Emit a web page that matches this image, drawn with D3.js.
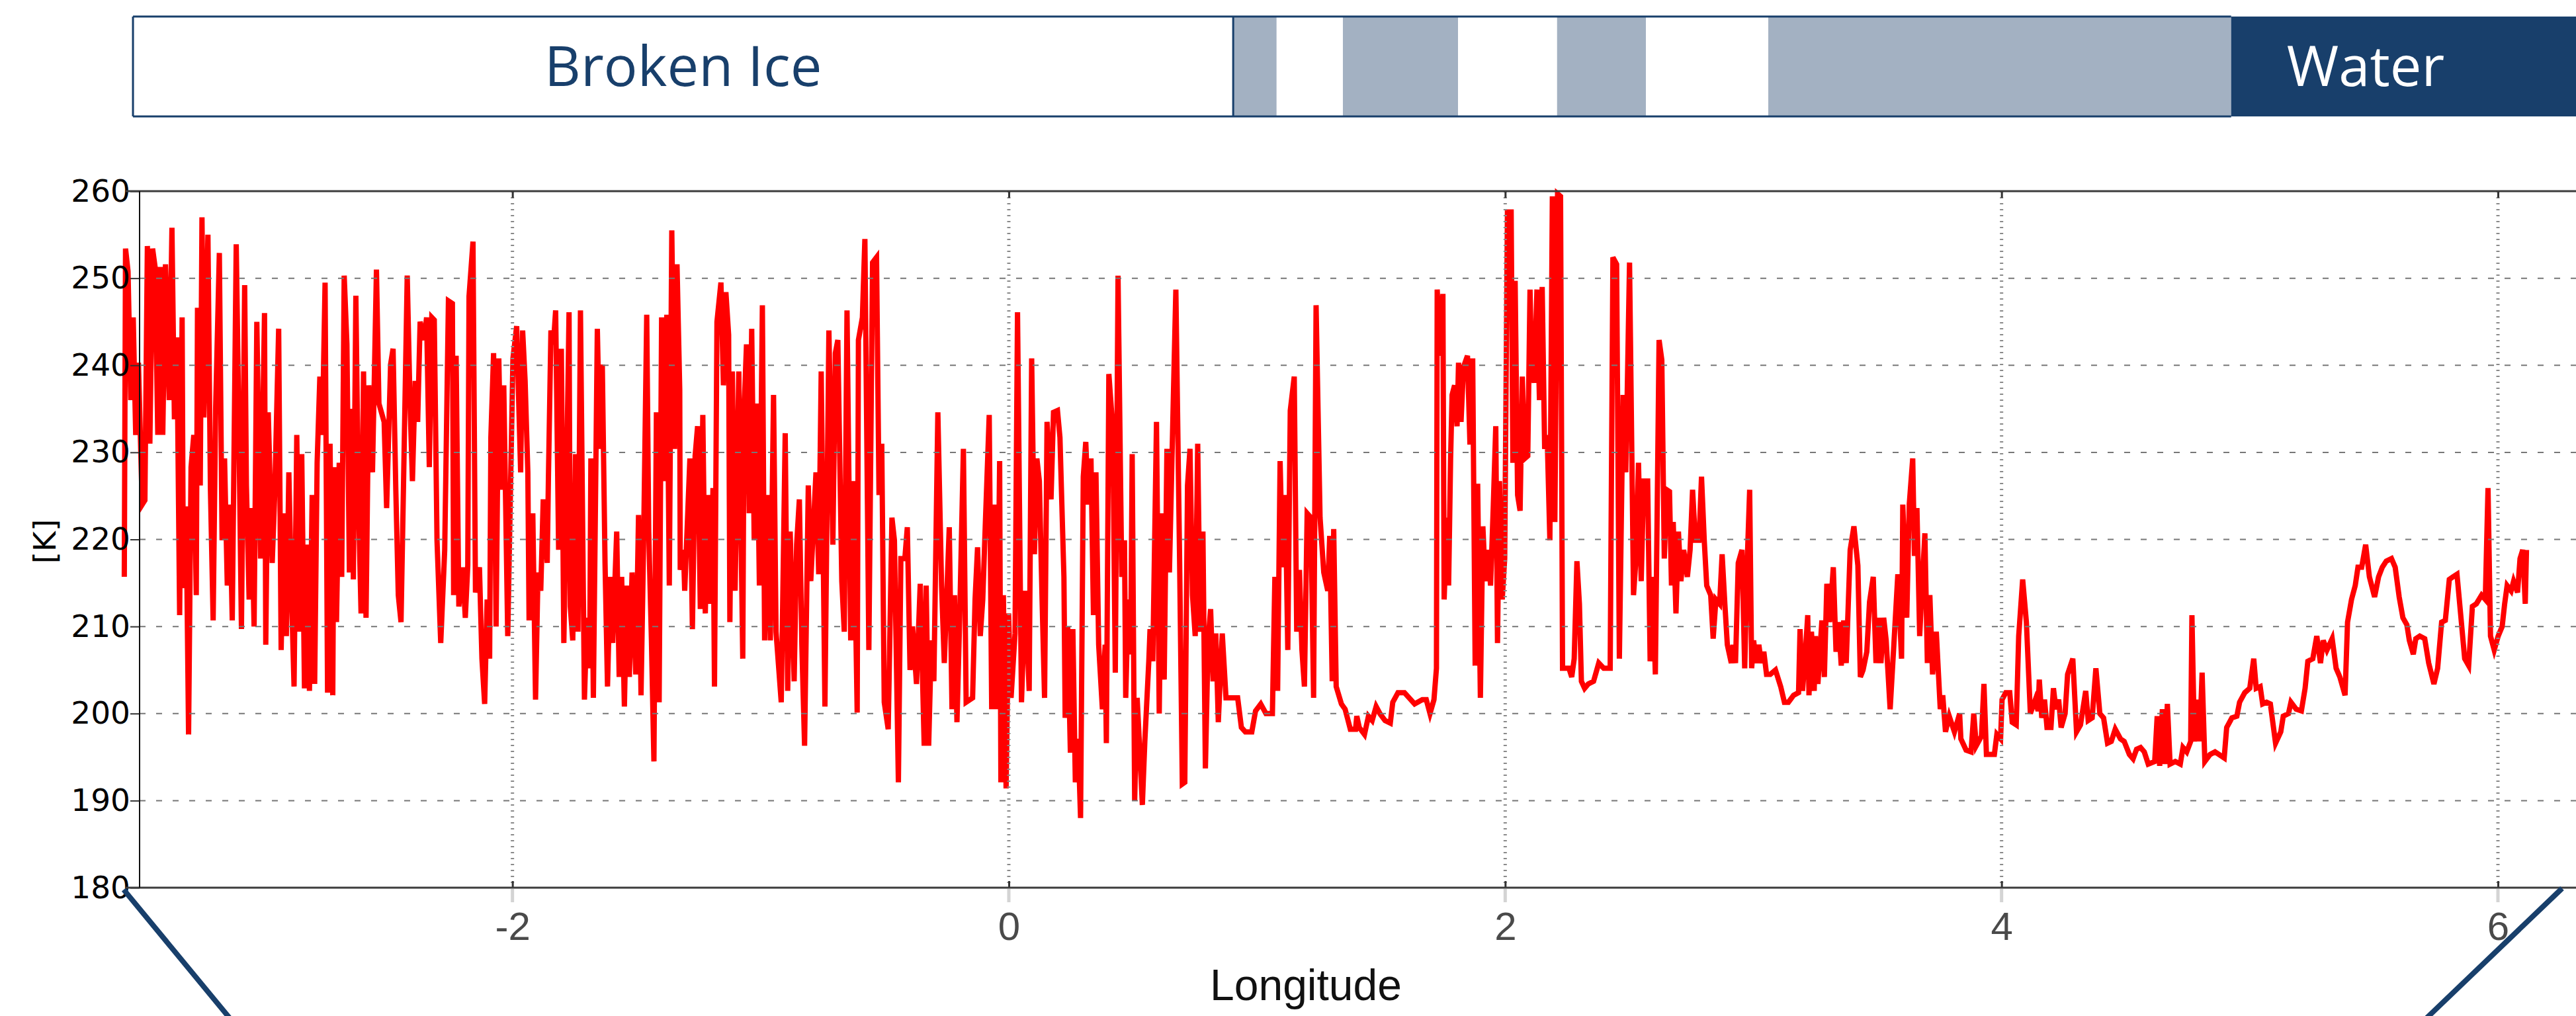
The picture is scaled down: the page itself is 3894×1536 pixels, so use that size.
<!DOCTYPE html>
<html>
<head>
<meta charset="utf-8">
<script src="https://cdn.jsdelivr.net/npm/d3@7"></script>
<style>
  body { margin: 0; background: #fff; }
  svg { display: block; }
</style>
</head>
<body>
<div id="chart"></div>
<script>
  // Size
  var width = 3894
  var height = 1536

  // Brightness temperature [K] along the track, [longitude, K], west to east
  var segA = [[-3.564,215.7],[-3.559,253.4],[-3.549,250.8],[-3.538,236.0],[-3.528,245.5],[-3.518,232.0],[-3.507,240.3],[-3.492,224.0],[-3.481,224.5],[-3.471,253.7],[-3.461,231.0],[-3.450,253.4],[-3.440,251.3],[-3.429,232.0],[-3.419,251.3],[-3.409,232.0],[-3.398,251.6],[-3.383,236.0],[-3.372,255.8],[-3.362,233.8],[-3.352,243.2],[-3.341,211.3],[-3.331,245.5],[-3.326,214.4],[-3.315,223.8],[-3.305,197.6],[-3.295,228.3],[-3.284,232.0],[-3.274,213.6],[-3.269,246.6],[-3.258,226.2],[-3.251,257.0],[-3.243,234.0],[-3.227,255.0],[-3.217,225.9],[-3.206,210.7],[-3.196,235.0],[-3.181,252.9],[-3.170,219.9],[-3.160,229.3],[-3.149,214.7],[-3.139,224.0],[-3.129,210.7],[-3.113,253.9],[-3.103,234.3],[-3.092,209.7],[-3.079,249.2],[-3.072,226.2],[-3.061,213.1],[-3.051,223.6],[-3.041,210.0],[-3.030,245.0],[-3.015,217.8],[-2.999,246.0],[-2.994,207.9],[-2.984,234.6],[-2.968,217.3],[-2.958,225.1],[-2.942,244.2],[-2.932,207.3],[-2.921,223.0],[-2.911,208.9],[-2.901,227.7],[-2.890,213.6],[-2.880,203.1],[-2.869,232.0],[-2.859,209.4],[-2.849,229.8],[-2.838,202.9],[-2.828,219.4],[-2.818,202.6],[-2.807,225.1],[-2.797,203.4],[-2.787,228.8],[-2.776,238.7],[-2.766,232.0],[-2.755,249.5],[-2.745,202.4],[-2.735,231.0],[-2.724,202.1],[-2.719,228.3],[-2.709,210.5],[-2.698,228.8],[-2.688,215.7],[-2.678,250.3],[-2.667,242.4],[-2.657,216.2],[-2.647,235.0],[-2.641,215.4],[-2.631,248.0],[-2.621,225.1],[-2.610,211.5],[-2.600,239.3],[-2.590,211.0],[-2.579,237.7],[-2.564,227.7],[-2.548,251.0],[-2.538,235.6],[-2.517,233.5],[-2.507,223.6],[-2.491,240.1],[-2.481,241.9],[-2.470,225.7],[-2.460,213.6],[-2.449,210.5],[-2.439,226.2],[-2.424,250.3],[-2.413,236.0],[-2.403,226.7],[-2.392,238.2],[-2.382,233.5],[-2.372,245.0],[-2.356,242.9],[-2.346,245.5],[-2.335,228.3],[-2.325,245.5],[-2.315,245.2],[-2.304,219.9],[-2.289,208.1],[-2.273,218.8],[-2.258,247.4],[-2.242,247.1],[-2.237,213.6],[-2.227,241.1],[-2.216,212.3],[-2.201,216.8],[-2.190,211.0],[-2.180,217.0],[-2.175,247.9],[-2.159,254.2],[-2.149,213.9],[-2.133,216.8],[-2.123,206.3],[-2.112,201.1],[-2.102,213.1],[-2.092,206.3],[-2.087,231.7],[-2.076,241.4],[-2.066,210.0],[-2.055,240.8],[-2.045,225.7],[-2.035,237.7],[-2.019,208.9],[-1.998,240.8],[-1.983,244.5],[-1.967,227.7]]
  var segB = [[-1.959,244.0],[-1.949,238.2],[-1.938,227.7],[-1.933,210.7],[-1.918,223.0],[-1.907,201.6],[-1.897,216.2],[-1.886,214.1],[-1.876,224.6],[-1.860,217.3],[-1.855,227.2],[-1.845,244.0],[-1.835,242.4],[-1.826,246.3],[-1.814,218.8],[-1.803,241.9],[-1.793,208.1],[-1.783,225.1],[-1.772,246.1],[-1.767,212.3],[-1.757,208.4],[-1.746,229.8],[-1.736,209.4],[-1.726,246.3],[-1.710,201.6],[-1.700,211.0],[-1.689,205.2],[-1.684,229.3],[-1.674,201.8],[-1.658,244.2],[-1.648,230.4],[-1.638,240.1],[-1.627,217.3],[-1.617,203.1],[-1.606,215.7],[-1.596,208.1],[-1.580,220.9],[-1.570,204.2],[-1.560,215.7],[-1.549,200.8],[-1.539,214.7],[-1.529,204.2],[-1.518,216.2],[-1.503,204.5],[-1.492,222.8],[-1.482,202.1],[-1.472,218.8],[-1.459,245.8],[-1.451,220.9],[-1.440,208.4],[-1.430,194.5],[-1.420,234.6],[-1.409,201.3],[-1.399,245.5],[-1.389,226.7],[-1.378,245.8],[-1.368,214.7],[-1.358,255.5],[-1.347,230.4],[-1.337,251.6],[-1.326,237.2],[-1.324,216.5],[-1.311,218.8],[-1.306,214.1],[-1.285,229.3],[-1.275,209.7],[-1.264,229.6],[-1.254,233.0],[-1.243,212.0],[-1.233,234.3],[-1.223,211.5],[-1.212,225.1],[-1.202,212.6],[-1.192,225.9],[-1.186,203.1],[-1.176,245.0],[-1.160,249.5],[-1.150,237.7],[-1.140,248.4],[-1.129,243.5],[-1.124,210.5],[-1.114,239.3],[-1.103,214.1],[-1.088,239.3],[-1.072,206.3],[-1.067,234.6],[-1.057,242.4],[-1.046,223.0],[-1.036,244.2],[-1.026,219.9],[-1.015,235.6],[-1.005,214.7],[-0.993,246.9],[-0.984,208.4],[-0.969,225.1],[-0.961,208.4],[-0.948,236.6],[-0.938,209.4],[-0.917,201.3],[-0.901,232.2],[-0.891,202.6],[-0.881,220.9],[-0.865,203.7],[-0.855,219.4],[-0.844,224.6],[-0.834,207.9],[-0.823,196.3],[-0.808,226.2],[-0.798,215.2],[-0.777,227.7],[-0.766,216.0],[-0.756,239.3],[-0.741,200.8],[-0.725,244.0],[-0.709,219.4],[-0.699,241.4],[-0.689,242.9],[-0.673,215.2],[-0.663,209.4],[-0.652,246.3],[-0.637,208.4],[-0.626,226.7],[-0.611,200.1],[-0.606,242.9],[-0.590,245.5],[-0.580,254.5],[-0.564,207.3],[-0.549,251.8],[-0.533,252.4],[-0.523,225.1],[-0.512,231.0],[-0.502,201.3],[-0.486,198.2],[-0.471,222.5],[-0.461,219.9],[-0.445,192.1],[-0.435,217.8],[-0.419,217.8],[-0.409,221.4],[-0.398,205.0],[-0.388,210.0],[-0.372,203.4],[-0.357,214.9],[-0.341,196.3]]
  var segC = [[-0.333,214.7],[-0.323,196.3],[-0.312,208.4],[-0.302,203.7],[-0.286,234.6],[-0.271,214.7],[-0.260,205.8],[-0.250,213.6],[-0.240,221.4],[-0.229,200.5],[-0.219,213.6],[-0.209,199.0],[-0.198,211.0],[-0.183,230.4],[-0.172,201.3],[-0.146,201.8],[-0.136,213.1],[-0.126,219.1],[-0.115,208.9],[-0.105,213.1],[-0.094,222.3],[-0.079,234.3],[-0.069,200.5],[-0.058,224.0],[-0.048,200.5],[-0.037,229.0],[-0.032,192.1],[-0.022,213.6],[-0.011,191.4],[-0.001,211.5],[0.009,201.8],[0.025,209.2],[0.035,246.1],[0.051,201.3],[0.066,214.1],[0.082,202.6],[0.092,240.8],[0.103,218.3],[0.113,229.3],[0.123,226.7],[0.134,213.1],[0.144,201.8],[0.154,233.5],[0.170,224.6],[0.180,234.6],[0.196,234.8],[0.206,231.7],[0.222,215.7],[0.227,199.5],[0.237,210.0],[0.248,195.5],[0.258,209.7],[0.268,192.1],[0.279,197.1],[0.289,188.0],[0.300,227.2],[0.310,231.2],[0.320,224.0],[0.331,229.3],[0.341,211.3],[0.351,227.7],[0.362,207.9],[0.377,200.5],[0.388,207.9],[0.393,196.6],[0.403,239.0],[0.419,232.7],[0.429,204.7],[0.440,250.3],[0.455,215.7],[0.466,219.9],[0.471,201.8],[0.481,213.1],[0.491,206.8],[0.497,229.8],[0.507,190.0],[0.517,201.8],[0.528,195.5],[0.538,189.5],[0.548,196.8],[0.564,206.0],[0.569,209.7],[0.580,206.0],[0.595,233.5],[0.606,200.0],[0.616,223.0],[0.626,203.9],[0.637,230.4],[0.647,216.2],[0.652,222.5],[0.663,236.4],[0.673,248.7],[0.688,217.8],[0.699,191.9],[0.709,192.1],[0.720,226.2],[0.730,230.4],[0.740,213.6],[0.751,208.9],[0.761,231.0],[0.771,209.4],[0.782,220.9],[0.792,193.7],[0.803,208.4],[0.813,212.0],[0.823,203.7],[0.834,209.2],[0.844,199.0],[0.860,209.2],[0.875,201.8],[0.896,201.8],[0.922,201.8],[0.937,198.4],[0.953,197.9],[0.979,197.9],[0.994,200.3],[1.015,201.1],[1.036,200.0],[1.062,200.0],[1.072,215.7],[1.083,202.6],[1.093,229.0],[1.103,216.8],[1.114,225.1],[1.124,207.3],[1.134,234.8],[1.150,238.7],[1.160,209.4],[1.171,216.5],[1.181,207.3],[1.191,203.1],[1.202,223.0],[1.217,222.5],[1.228,201.8],[1.238,246.9],[1.254,222.5],[1.269,216.2],[1.285,214.1]]
  var segD = [[1.293,220.4],[1.303,203.7],[1.309,221.2],[1.319,203.1],[1.340,201.1],[1.355,200.5],[1.376,198.2],[1.397,198.2],[1.402,199.7],[1.412,198.4],[1.433,197.6],[1.449,199.7],[1.464,199.2],[1.480,200.8],[1.495,200.0],[1.516,199.2],[1.537,198.9],[1.547,201.3],[1.568,202.4],[1.594,202.4],[1.635,201.1],[1.666,201.6],[1.682,201.6],[1.697,200.0],[1.713,201.6],[1.723,205.2],[1.726,248.7],[1.737,241.1],[1.749,248.2],[1.754,213.1],[1.765,222.5],[1.772,214.7],[1.780,229.3],[1.786,236.6],[1.796,237.7],[1.806,233.0],[1.812,240.3],[1.822,233.5],[1.832,239.8],[1.848,241.1],[1.858,230.9],[1.869,240.8],[1.879,205.5],[1.889,226.4],[1.900,201.8],[1.910,221.5],[1.920,215.2],[1.931,218.8],[1.941,214.7],[1.952,223.8],[1.962,233.0],[1.969,208.1],[1.977,226.7],[1.988,213.1],[1.998,217.8],[2.009,257.6],[2.024,257.6],[2.031,228.8],[2.040,249.7],[2.050,225.1],[2.060,223.3],[2.069,238.7],[2.079,229.3],[2.091,229.6],[2.100,248.7],[2.107,239.8],[2.117,238.0],[2.128,248.7],[2.138,236.0],[2.149,249.0],[2.159,230.4],[2.169,232.0],[2.180,219.9],[2.190,259.4],[2.200,222.0],[2.211,259.7],[2.223,259.4],[2.231,205.2],[2.257,205.2],[2.268,204.2],[2.278,206.3],[2.289,217.5],[2.299,212.6],[2.307,203.7],[2.320,202.9],[2.335,203.4],[2.356,203.7],[2.377,205.8],[2.397,205.2],[2.423,205.2],[2.434,252.4],[2.449,251.6],[2.460,206.3],[2.475,236.6],[2.486,227.7],[2.501,251.8],[2.517,213.6],[2.527,217.8],[2.537,228.8],[2.548,215.2],[2.558,226.7],[2.574,226.7],[2.584,206.0],[2.594,215.7],[2.605,204.5],[2.620,242.9],[2.631,240.6],[2.641,217.8],[2.651,225.7],[2.662,225.5],[2.670,214.7],[2.677,222.0],[2.688,211.5],[2.698,220.9],[2.708,215.2],[2.719,218.8],[2.734,215.7],[2.745,218.8],[2.755,225.7],[2.766,219.9],[2.781,219.9],[2.791,227.2],[2.802,219.9],[2.812,214.7],[2.828,213.6],[2.838,208.6],[2.849,213.1],[2.864,212.6],[2.874,218.3],[2.885,212.6],[2.895,207.9],[2.911,205.8]]
  var segE = [[2.918,207.9],[2.928,205.8],[2.939,217.3],[2.954,218.8],[2.965,205.2],[2.975,217.3],[2.985,225.7],[2.993,205.2],[3.001,208.4],[3.011,205.8],[3.022,207.9],[3.032,205.8],[3.042,207.1],[3.053,204.5],[3.068,204.5],[3.089,205.0],[3.110,203.1],[3.125,201.3],[3.141,201.3],[3.162,202.1],[3.182,202.4],[3.188,209.7],[3.198,202.6],[3.208,206.3],[3.219,211.3],[3.224,202.1],[3.234,209.4],[3.245,202.6],[3.250,208.9],[3.260,203.4],[3.276,210.7],[3.286,204.2],[3.296,214.9],[3.307,210.5],[3.322,216.8],[3.333,207.1],[3.343,210.5],[3.354,205.5],[3.364,210.7],[3.374,205.8],[3.390,218.8],[3.405,221.5],[3.421,217.0],[3.431,204.2],[3.442,205.0],[3.457,207.1],[3.468,212.8],[3.483,215.7],[3.494,205.8],[3.504,211.0],[3.514,205.8],[3.525,211.0],[3.535,208.4],[3.551,200.5],[3.566,207.9],[3.582,216.0],[3.597,206.3],[3.602,224.0],[3.618,211.0],[3.628,224.0],[3.642,229.3],[3.649,218.1],[3.659,223.6],[3.670,208.9],[3.680,214.7],[3.691,220.7],[3.701,205.8],[3.711,213.6],[3.722,204.5],[3.737,209.4],[3.753,200.5],[3.763,202.1],[3.774,197.9],[3.789,199.7],[3.810,197.9],[3.831,200.0],[3.836,197.1],[3.857,195.8],[3.877,195.6],[3.888,200.0],[3.898,196.3],[3.919,197.4],[3.929,203.4],[3.939,195.3],[3.971,195.3],[3.981,197.6],[3.996,197.1],[4.002,201.6],[4.017,202.4],[4.033,202.4],[4.043,199.0],[4.059,198.7],[4.069,208.9],[4.085,215.4],[4.100,210.5],[4.116,200.0],[4.136,201.6],[4.147,200.3],[4.152,203.9],[4.162,199.5],[4.173,201.6],[4.183,198.4],[4.199,198.4],[4.209,202.9],[4.219,200.5],[4.230,201.6],[4.240,198.4],[4.256,200.0],[4.266,204.5],[4.287,206.3],[4.302,197.9],[4.318,198.7],[4.339,202.6],[4.349,199.2],[4.365,199.5],[4.380,205.2],[4.396,200.0],[4.411,199.5],[4.427,196.6],[4.442,196.8],[4.458,198.2],[4.479,197.1],[4.494,196.8],[4.515,195.3],[4.530,194.8]]
  var segF = [[4.544,195.9],[4.560,196.1],[4.575,195.6],[4.591,194.2],[4.617,194.5],[4.627,199.7],[4.637,194.0],[4.648,200.5],[4.658,194.2],[4.668,201.1],[4.679,194.2],[4.700,194.5],[4.720,194.2],[4.731,196.1],[4.746,195.6],[4.762,196.8],[4.767,211.3],[4.777,196.8],[4.788,201.6],[4.798,196.8],[4.808,204.7],[4.819,194.5],[4.840,195.3],[4.860,195.6],[4.876,195.3],[4.897,194.9],[4.907,198.4],[4.928,199.5],[4.948,199.7],[4.959,201.3],[4.980,202.4],[5.000,202.9],[5.016,206.3],[5.026,202.9],[5.042,203.1],[5.052,201.1],[5.068,201.3],[5.083,201.1],[5.104,196.6],[5.125,197.9],[5.135,199.7],[5.156,200.0],[5.166,201.3],[5.187,200.5],[5.208,200.3],[5.223,202.9],[5.234,206.0],[5.254,206.3],[5.270,208.9],[5.285,205.8],[5.296,208.4],[5.311,207.3],[5.332,208.6],[5.348,205.2],[5.363,204.2],[5.384,202.1],[5.394,210.5],[5.410,213.1],[5.425,214.7],[5.436,216.8],[5.451,216.8],[5.467,219.4],[5.482,215.7],[5.503,213.4],[5.519,215.7],[5.534,216.8],[5.550,217.5],[5.571,217.8],[5.586,216.8],[5.602,213.4],[5.617,211.0],[5.633,210.2],[5.643,208.4],[5.659,206.8],[5.669,208.6],[5.685,208.9],[5.705,208.6],[5.721,205.8],[5.742,203.4],[5.757,205.2],[5.773,210.5],[5.788,210.7],[5.804,215.4],[5.819,215.7],[5.835,216.0],[5.851,211.0],[5.866,206.3],[5.882,205.5],[5.897,212.3],[5.913,212.6],[5.934,213.6],[5.949,213.1],[5.960,225.9],[5.970,208.9],[5.985,207.3],[6.001,208.9],[6.017,210.0],[6.027,212.6],[6.037,214.7],[6.053,214.1],[6.063,215.2],[6.079,213.9],[6.089,217.8],[6.100,218.8],[6.110,212.6],[6.115,218.8]]
  var series = segA.concat(segB, segC, segD, segE, segF)

  // Surface type strip above the plot (longitude edges)
  var bandEdges = [-3.529, 0.904, 1.079, 1.346, 1.810, 2.209, 2.567, 3.060, 4.925, 6.40]
  var bandKind = ["broken", "mixed", "open", "mixed", "open", "mixed", "open", "mixed", "water"]
  var bandLabels = [["Broken Ice", -1.312, "broken"], ["Water", 5.467, "water"]]

  // Ticks
  var xTicks = [-2, 0, 2, 4, 6]
  var yTicks = [180, 190, 200, 210, 220, 230, 240, 250, 260]

  var navy = "#183f6b"
  var grey = "#a3b1c2"

  var svg = d3.select("#chart")
    .append("svg")
    .attr("width", width)
    .attr("height", height)
    .style("background", "#fff")

  var x = d3.scaleLinear()
    .domain([-3.5024, 6.3145])
    .range([211, 3894])
  var y = d3.scaleLinear()
    .domain([180, 260])
    .range([1342, 289])

  // ---- surface type strip
  var bandTop = 25, bandBot = 176
  var bands = d3.range(bandKind.length).map(function (i) {
    return { x0: bandEdges[i], x1: bandEdges[i + 1], kind: bandKind[i] }
  })
  var fillOf = { broken: "#fff", mixed: grey, open: "#fff", water: navy }

  svg.append("g")
    .selectAll("rect")
    .data(bands)
    .enter()
    .append("rect")
    .attr("x", function (d) { return x(d.x0) })
    .attr("y", bandTop)
    .attr("width", function (d) { return x(d.x1) - x(d.x0) })
    .attr("height", bandBot - bandTop)
    .attr("fill", function (d) { return fillOf[d.kind] })

  // outline along top / bottom of the strip up to the water box
  var stripEnd = x(bandEdges[bandEdges.length - 2])
  svg.append("path")
    .attr("d", "M" + x(bandEdges[0]) + "," + bandTop + "H" + stripEnd +
      "M" + x(bandEdges[0]) + "," + bandBot + "H" + stripEnd +
      "M" + x(bandEdges[0]) + "," + bandTop + "V" + bandBot +
      "M" + x(bandEdges[1]) + "," + bandTop + "V" + bandBot)
    .attr("fill", "none")
    .attr("stroke", navy)
    .attr("stroke-width", 3)

  svg.append("g")
    .selectAll("text")
    .data(bandLabels)
    .enter()
    .append("text")
    .attr("x", function (d) { return x(d[1]) })
    .attr("y", 130)
    .attr("text-anchor", "middle")
    .style("font-family", "'Open Sans', sans-serif")
    .style("font-size", "85px")
    .attr("fill", function (d) { return d[2] == "water" ? "#fff" : navy })
    .text(function (d) { return d[0] })

  // ---- data line (grid goes on top, like the original)
  var line = d3.line()
    .x(function (d) { return x(d[0]) })
    .y(function (d) { return y(d[1]) })

  svg.append("path")
    .datum(series)
    .attr("fill", "none")
    .attr("stroke", "#ff0000")
    .attr("stroke-width", 8)
    .attr("d", line)

  // ---- grid
  svg.append("g")
    .selectAll("line")
    .data(yTicks.filter(function (t) { return t > 180 && t < 260 }))
    .enter()
    .append("line")
    .attr("x1", 211)
    .attr("x2", width)
    .attr("y1", function (d) { return y(d) })
    .attr("y2", function (d) { return y(d) })
    .attr("stroke", "#777")
    .attr("stroke-width", 2)
    .attr("stroke-dasharray", "9,16")

  svg.append("g")
    .selectAll("line")
    .data(xTicks)
    .enter()
    .append("line")
    .attr("x1", function (d) { return x(d) })
    .attr("x2", function (d) { return x(d) })
    .attr("y1", y(260))
    .attr("y2", y(180))
    .attr("stroke", "#8a8a8a")
    .attr("stroke-width", 5)
    .attr("stroke-dasharray", "2,7")

  // ---- axes
  // faint marks under the x axis
  svg.append("g")
    .selectAll("line")
    .data(xTicks)
    .enter()
    .append("line")
    .attr("x1", function (d) { return x(d) })
    .attr("x2", function (d) { return x(d) })
    .attr("y1", y(180) + 2)
    .attr("y2", y(180) + 22)
    .attr("stroke", "#d4d4d4")
    .attr("stroke-width", 5)

  var xAxis = svg.append("g")
    .attr("transform", "translate(0," + y(180) + ")")
    .call(d3.axisBottom(x).tickValues(xTicks).tickSize(-10).tickPadding(36).tickFormat(d3.format("d")))
  xAxis.select(".domain").remove()
  xAxis.selectAll("line").attr("stroke", "#333").attr("stroke-width", 3)
  xAxis.selectAll("text")
    .style("font-family", "'Liberation Sans', Arial, sans-serif")
    .style("font-size", "60px")
    .attr("fill", "#4a4a4a")
    .text(function (d) { return d < 0 ? "-" + Math.abs(d) : d })

  var xTop = svg.append("g")
    .attr("transform", "translate(0," + y(260) + ")")
    .call(d3.axisTop(x).tickValues(xTicks).tickSize(-10).tickFormat(""))
  xTop.select(".domain").remove()
  xTop.selectAll("line").attr("stroke", "#333").attr("stroke-width", 3)

  var yAxis = svg.append("g")
    .attr("transform", "translate(211,0)")
    .call(d3.axisLeft(y).tickValues(yTicks).tickSize(14).tickPadding(0))
  yAxis.select(".domain").remove()
  yAxis.selectAll("line").attr("stroke", "#333").attr("stroke-width", 2)
  yAxis.selectAll("text")
    .style("font-family", "'DejaVu Sans', sans-serif")
    .style("font-size", "47px")
    .attr("fill", "#000")

  // frame: top and bottom rules, left spine
  svg.append("path")
    .attr("d", "M190," + y(260) + "H" + width + "M190," + y(180) + "H" + width)
    .attr("stroke", "#3c3c3c")
    .attr("stroke-width", 3)
  svg.append("line")
    .attr("x1", 211).attr("x2", 211)
    .attr("y1", y(260)).attr("y2", y(180))
    .attr("stroke", "#111")
    .attr("stroke-width", 2)

  // axis titles
  svg.append("text")
    .attr("transform", "translate(71," + (y(220) + 3) + ") rotate(-90)")
    .attr("text-anchor", "middle")
    .attr("dominant-baseline", "middle")
    .style("font-family", "'DejaVu Sans', sans-serif")
    .style("font-size", "47px")
    .text("[K]")

  svg.append("text")
    .attr("x", 1974)
    .attr("y", 1512)
    .attr("text-anchor", "middle")
    .style("font-family", "'Liberation Sans', Arial, sans-serif")
    .style("font-size", "66px")
    .attr("fill", "#111")
    .text("Longitude")

  // zoom connector lines towards the panel below
  svg.append("path")
    .attr("d", "M187,1345L352,1545M3873,1343L3662,1545")
    .attr("fill", "none")
    .attr("stroke", navy)
    .attr("stroke-width", 8)
</script>
</body>
</html>
